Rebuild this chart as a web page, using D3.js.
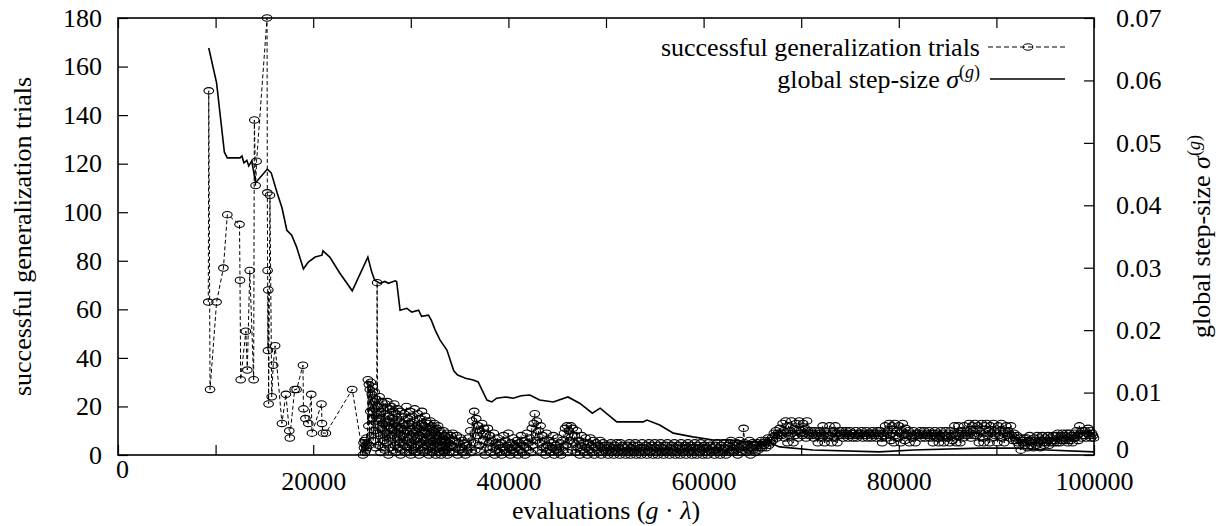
<!DOCTYPE html>
<html>
<head>
<meta charset="utf-8">
<script src="https://cdn.jsdelivr.net/npm/d3@7"></script>
<style>
body { margin: 0; background: #fff; }
text { font-family: "Liberation Serif", "Times New Roman", serif; fill: #000; }
</style>
</head>
<body>
<div id="chart"></div>
<script>
// ---- data ----
// sparse early generations: [evaluations, successful trials]
var trialsEarly = [[9250,63],[9300,150],[9430,27],[10100,63],[10800,77],[11200,99],[12450,95],[12500,72],
  [12570,31],[13100,51],[13250,35],[13500,76],[13900,31],[13970,138],[14100,111],[14200,121],[15270,180],
  [15300,108],[15330,76],[15360,43],[15400,68],[15430,21],[15570,107],[15750,24],[15900,37],[16100,45],
  [16800,13],[17200,25],[17550,10],[17600,7],[18100,27],[18300,27],[18950,37],[19000,19],[19200,15],
  [19500,13],[19800,25],[19870,9],[20850,21],[20900,13],[21000,9],[21300,9],[24000,27]];

// dense part, one value per sampled generation
var burstStart = 25100, burstStep = 50;
var trialsBurst = [0,5,3,6,1,4,2,7,3,5,31,12,29,4,27,18,30,8,25,15,28,6,22,10,26,19,3,23,14,71,9];

var midStart = 26650, midStep = 50;
var trialsMid = [20,4,15,24,8,1,18,11,22,3, 13,19,6,17,2,21,9,14,5,22, 12,0,16,7,19,3,11,20,8,15,
  2,18,10,21,4,13,1,17,7,12, 19,3,9,14,5,18,0,11,16,2, 8,13,4,17,9,1,12,6,20,10,
  3,15,7,13,1,18,5,0,11,4, 16,9,2,14,6,19,3,10,1,12, 7,17,4,11,0,15,8,2,13,5,
  18,9,3,12,6,1,16,10,4,14, 2,9,13,5,0,11,7,14,3,8, 12,1,6,10,4,13,2,9,0,7,
  11,5,3,12,8,1,10,4,6,0, 9,3,7,2,10,5,1,8,4,6, 2,9,0,5,3,7,1,6,4,8];

var lowStart = 34200, lowStep = 100;
var trialsLow = [4,9,1,6,3,8,0,5,2,7, 3,6,1,5,0,4,2,7,3,10, 1,14,5,18,2,15,8,12,4,10,
  2,13,6,11,0,9,3,11,5,8, 1,6,3,9,0,5,2,7,4,1, 5,0,3,8,2,6,1,4,9,3,
  0,5,2,7,1,4,3,6,0,5, 2,8,1,4,6,0,3,9,5,2, 7,1,11,4,13,17,6,14,2,10,
  5,12,1,8,3,6,0,9,4,2, 6,1,5,3,8,0,4,2,7,1, 3,5,0,6,2,9,11,4,12,1,
  10,6,12,2,11,5,8,1,10,3, 6,0,4,8,2,5,1,7,3,0, 5,2,7,4,1,6,0,3,5,2,
  4,1,6,0,3,5,2,4,1,3, 0,4,2,5,1,3,0,4,2,5, 1,3,0,5,2,4,1,3,0,2,
  4,1,5,0,3,2,4,1,5,0, 2,4,1,3,0,5,2,3,1,4, 0,2,5,1,3,4,0,2,5,1,
  3,0,4,2,5,1,3,0,2,4, 1,5,2,0,3,4,1,2,5,0, 3,1,4,2,0,5,3,1,2,4,
  0,3,5,1,2,4,0,3,1,5, 2,0,4,3,1,5,2,0,3,4, 1,3,0,5,2,4,1,3,2,0,
  4,2,5,1,3,0,4,2,1,5, 3,0,2,4,1,5,6,2,3,1, 4,2,5,0,3,6,1,4,2,11,
  5,3,1,4,2,6,0,3,5,2, 4,1,3,5,2,4,3,6];

var lateStart = 66000, lateStep = 100;
var trialsLate = [3,5,4,6,3,5,7,4,6,5, 7,6,9,8,10,7,9,8,11,9, 8,13,10,7,14,9,5,12,8,10,
  14,9,5,11,8,13,10,7,14,9, 10,8,13,9,11,7,14,10,8,9, 10,8,9,7,10,8,9,5,8,10,
  9,7,12,8,5,10,9,7,8,12, 8,5,9,10,7,12,9,5,8,10, 9,8,10,7,9,8,10,9,7,8,
  10,8,9,7,9,8,10,7,8,9, 8,9,10,7,8,9,8,10,7,9, 9,8,7,10,9,8,9,7,10,8,
  9,10,7,5,9,8,12,7,9,10, 13,8,6,12,9,5,13,8,10,7, 12,9,5,10,13,8,6,11,9,8,
  10,5,9,8,7,10,8,5,9,8, 9,8,10,7,9,8,10,7,8,9, 8,10,7,9,8,5,9,10,8,7,
  9,5,8,10,7,9,5,8,10,8, 7,9,5,10,8,6,9,12,8,5, 9,12,8,5,10,9,7,12,8,9,
  10,8,13,9,7,12,10,8,13,9, 8,12,5,10,9,13,7,5,12,9, 13,8,10,5,12,9,7,13,10,8,
  9,5,12,8,10,13,7,9,5,10, 12,8,10,9,7,12,8,6,9,7, 6,8,5,4,7,2,6,5,7,4,
  5,7,3,6,8,4,6,5,3,7, 6,4,8,5,7,3,6,8,5,4, 7,5,6,8,4,7,5,6,8,5,
  6,8,5,9,7,5,8,6,9,7, 8,6,9,5,7,9,6,8,5,7, 9,7,10,8,6,12,9,7,10,8,
  8,10,7,9,11,8,10,7,9,8, 7];

// global step-size sigma^(g): [evaluations, sigma]
var sigmaPoints = [[9300,0.0652],[10100,0.0596],[10900,0.0485],[11200,0.0476],[12500,0.0476],[12700,0.0479],
  [12900,0.0468],[13200,0.0472],[13400,0.0463],[13700,0.0471],[14100,0.0436],[15300,0.0458],[15700,0.0452],
  [16300,0.0420],[16800,0.0396],[17300,0.0360],[17800,0.0352],[18300,0.0333],[19000,0.0298],[19500,0.0309],
  [20200,0.0317],[20900,0.0320],[21000,0.0327],[21700,0.0317],[22700,0.0292],[24000,0.0263],[25600,0.0317],
  [26000,0.0293],[26300,0.0280],[26850,0.0275],[27350,0.0278],[27700,0.0275],[28400,0.0279],[28550,0.0278],
  [28900,0.0232],[29600,0.0235],[30100,0.0229],[30800,0.0232],[31100,0.0222],[31800,0.0224],[32100,0.0216],
  [32500,0.0200],[33000,0.0184],[33700,0.0168],[34400,0.0135],[34800,0.0128],[35600,0.0123],[36400,0.0120],
  [36900,0.0117],[37800,0.0088],[38300,0.0085],[38800,0.0091],[39700,0.0093],[40500,0.0091],[41300,0.0095],
  [42200,0.0096],[43200,0.0088],[44600,0.0085],[46100,0.0093],[47300,0.0083],[48600,0.0067],[49400,0.0075],
  [51100,0.0053],[53800,0.0053],[54200,0.0056],[55500,0.0048],[56900,0.0035],[58900,0.0029],[61000,0.0024],
  [62700,0.0024],[64400,0.0021],[66500,0.0021],[67800,0.0013],[71200,0.0008],[78000,0.0005],[81500,0.0008],
  [88300,0.0011],[91700,0.0011],[95200,0.0008],[100000,0.0005]];

var xTicks = d3.range(0, 100001, 10000);
var yTicks = d3.range(0, 181, 20);
var y2Ticks = [0, 0.01, 0.02, 0.03, 0.04, 0.05, 0.06, 0.07];

// ---- build the trials series ----
var trials = trialsEarly.slice();
function addRun(start, step, vals) {
  vals.forEach(function(v, i) { trials.push([start + i * step, v]); });
}
addRun(burstStart, burstStep, trialsBurst);
addRun(midStart, midStep, trialsMid);
addRun(lowStart, lowStep, trialsLow);
addRun(lateStart, lateStep, trialsLate);

// ---- layout ----
var W = 1231, H = 526;
var padL = 118, padR = 1094, padT = 18, padB = 455;
var fs = 26;

var x = d3.scaleLinear().domain([0, 100000]).range([padL, padR]);
var y = d3.scaleLinear().domain([0, 180]).range([padB, padT]);
var y2 = d3.scaleLinear().domain([0, 0.07]).range([padB, padT]);

var svg = d3.select("#chart").append("svg")
  .attr("width", W)
  .attr("height", H);

// bottom axis: ticks every 10000, labels every 20000
var gx = svg.append("g")
  .attr("transform", "translate(0," + padB + ")")
  .call(d3.axisBottom(x).tickValues(xTicks).tickSize(-10).tickPadding(17)
    .tickFormat(function(d) { return d % 20000 === 0 ? d : ""; }));
gx.selectAll("text").style("font-size", fs + "px");
// the "0" label sits higher in the original
gx.selectAll(".tick text").filter(function(d) { return d === 0; })
  .attr("y", 5).attr("x", 4);

// mirrored top ticks
svg.append("g")
  .attr("transform", "translate(0," + padT + ")")
  .call(d3.axisTop(x).tickValues(xTicks).tickSize(-10).tickFormat(""));

var gy = svg.append("g")
  .attr("transform", "translate(" + padL + ",0)")
  .call(d3.axisLeft(y).tickValues(yTicks).tickSize(-10).tickPadding(16));
gy.selectAll("text").style("font-size", fs + "px");

var gy2 = svg.append("g")
  .attr("transform", "translate(" + padR + ",0)")
  .call(d3.axisRight(y2).tickValues(y2Ticks).tickSize(-10).tickPadding(22)
    .tickFormat(function(d) { return d === 0 ? "0" : d3.format(".2f")(d); }));
gy2.selectAll("text").style("font-size", fs + "px");
gy2.selectAll(".tick text").filter(function(d) { return d === 0; }).attr("y", -6);

svg.selectAll(".domain").remove();
svg.selectAll(".tick line").attr("stroke", "#000").attr("stroke-width", 1.2);

// frame
svg.append("rect")
  .attr("x", padL).attr("y", padT)
  .attr("width", padR - padL).attr("height", padB - padT)
  .attr("fill", "none").attr("stroke", "#000").attr("stroke-width", 1.6);

// ---- trials series: dashed line with open ellipses ----
var lineTrials = d3.line()
  .x(function(d) { return x(d[0]); })
  .y(function(d) { return y(d[1]); });

svg.append("path")
  .datum(trials)
  .attr("d", lineTrials)
  .attr("fill", "none")
  .attr("stroke", "#000")
  .attr("stroke-width", 1)
  .attr("stroke-dasharray", "4,2.5");

svg.append("g").selectAll("ellipse")
  .data(trials)
  .enter()
  .append("ellipse")
  .attr("cx", function(d) { return x(d[0]); })
  .attr("cy", function(d) { return y(d[1]); })
  .attr("rx", 4.8)
  .attr("ry", 3.2)
  .attr("fill", "none")
  .attr("stroke", "#000")
  .attr("stroke-width", 1.1);

// ---- sigma series ----
var lineSigma = d3.line()
  .x(function(d) { return x(d[0]); })
  .y(function(d) { return y2(d[1]); });

svg.append("path")
  .datum(sigmaPoints)
  .attr("d", lineSigma)
  .attr("fill", "none")
  .attr("stroke", "#000")
  .attr("stroke-width", 1.6);

// ---- legend ----
var legX = 980;
svg.append("text").attr("x", legX).attr("y", 56)
  .attr("text-anchor", "end").style("font-size", fs + "px")
  .text("successful generalization trials");
svg.append("line").attr("x1", 988).attr("x2", 1067).attr("y1", 47).attr("y2", 47)
  .attr("stroke", "#000").attr("stroke-width", 1).attr("stroke-dasharray", "5,3");
svg.append("ellipse").attr("cx", 1028).attr("cy", 47).attr("rx", 4.8).attr("ry", 3.2)
  .attr("fill", "none").attr("stroke", "#000");

var l2 = svg.append("text").attr("x", legX).attr("y", 88)
  .attr("text-anchor", "end").style("font-size", fs + "px");
l2.append("tspan").text("global step-size ");
l2.append("tspan").style("font-style", "italic").text("σ");
l2.append("tspan").attr("dy", -10).style("font-size", "18px").text("(");
l2.append("tspan").style("font-size", "18px").style("font-style", "italic").text("g");
l2.append("tspan").style("font-size", "18px").text(")");
svg.append("line").attr("x1", 990).attr("x2", 1065).attr("y1", 79).attr("y2", 79)
  .attr("stroke", "#000").attr("stroke-width", 1.6);

// ---- axis titles ----
var xt = svg.append("text").attr("x", (padL + padR) / 2).attr("y", 519)
  .attr("text-anchor", "middle").style("font-size", fs + "px");
xt.append("tspan").text("evaluations (");
xt.append("tspan").style("font-style", "italic").text("g");
xt.append("tspan").text(" · ");
xt.append("tspan").style("font-style", "italic").text("λ");
xt.append("tspan").text(")");

svg.append("text")
  .attr("transform", "translate(31," + (padT + padB) / 2 + ") rotate(-90)")
  .attr("text-anchor", "middle").style("font-size", fs + "px")
  .text("successful generalization trials");

var yt2 = svg.append("text")
  .attr("transform", "translate(1210," + (padT + padB) / 2 + ") rotate(-90)")
  .attr("text-anchor", "middle").style("font-size", fs + "px");
yt2.append("tspan").text("global step-size ");
yt2.append("tspan").style("font-style", "italic").text("σ");
yt2.append("tspan").attr("dy", -10).style("font-size", "18px").text("(");
yt2.append("tspan").style("font-size", "18px").style("font-style", "italic").text("g");
yt2.append("tspan").style("font-size", "18px").text(")");
</script>
</body>
</html>
